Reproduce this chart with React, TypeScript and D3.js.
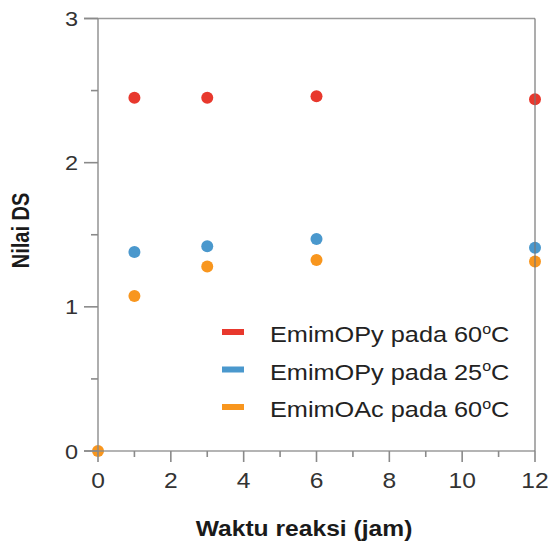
import React from "react";
import * as d3 from "d3";

const xTicks = [0, 2, 4, 6, 8, 10, 12];
const yTicks = [0, 1, 2, 3];
const seriesNames = ["EmimOPy pada 60", "EmimOPy pada 25", "EmimOAc pada 60"];
const seriesColors = ["#e8382d", "#4a98cd", "#f8961e"];
const redX = [1, 3, 6, 12];
const redY = [2.45, 2.45, 2.46, 2.44];
const blueX = [1, 3, 6, 12];
const blueY = [1.38, 1.42, 1.47, 1.41];
const orangeX = [0, 1, 3, 6, 12];
const orangeY = [0, 1.075, 1.28, 1.325, 1.315];

export default function App() {
  const W = 548, H = 544;
  const x = d3.scaleLinear().domain([0, 12]).range([98, 535]);
  const y = d3.scaleLinear().domain([0, 3]).range([451, 18.5]);
  const axisCol = "#8a8a8a";
  const font = "'Liberation Sans', Arial, sans-serif";
  const series = [
    { xs: redX, ys: redY },
    { xs: blueX, ys: blueY },
    { xs: orangeX, ys: orangeY },
  ];
  const minorX = d3.range(1, 12, 2);
  const minorY = [0.5, 1.5, 2.5];
  const sx = 1.12;
  return (
    <svg width={W} height={H} style={{ position: "absolute", left: 0, top: 0, background: "#fff" }}>
      {/* points */}
      {series.map((s, si) =>
        s.xs.map((xv, i) => (
          <circle key={si + "-" + i} cx={x(xv)} cy={y(s.ys[i])} r={6} fill={seriesColors[si]} />
        ))
      )}
      {/* frame */}
      <line x1={x(0)} x2={x(0)} y1={y(0)} y2={y(3)} stroke={axisCol} strokeWidth={1.6} opacity={0.85} />
      <line x1={84} x2={x(12)} y1={y(3)} y2={y(3)} stroke={axisCol} strokeWidth={1.6} opacity={0.85} />
      <line x1={84} x2={x(12)} y1={y(0)} y2={y(0)} stroke={axisCol} strokeWidth={1.6} opacity={0.85} />
      <line x1={x(12)} x2={x(12)} y1={y(0)} y2={y(3)} stroke="#777" strokeWidth={2} opacity={0.6} />
      {/* y ticks */}
      {yTicks.map((t) => (
        <g key={"yt" + t}>
          <line x1={84} x2={x(0)} y1={y(t)} y2={y(t)} stroke={axisCol} strokeWidth={1.6} />
          <text
            transform={`translate(78,${y(t) + 7.5}) scale(${sx},1)`}
            textAnchor="end"
            fontSize={21}
            fontFamily={font}
            fill="#333"
          >
            {t}
          </text>
        </g>
      ))}
      {minorY.map((t) => (
        <line key={"ym" + t} x1={91} x2={x(0)} y1={y(t)} y2={y(t)} stroke={axisCol} strokeWidth={1.6} />
      ))}
      {/* x ticks */}
      {xTicks.map((t) => (
        <g key={"xt" + t}>
          <line x1={x(t)} x2={x(t)} y1={y(0)} y2={y(0) + 11} stroke={axisCol} strokeWidth={1.6} />
          <text
            transform={`translate(${x(t)},488) scale(${sx},1)`}
            textAnchor="middle"
            fontSize={22}
            fontFamily={font}
            fill="#333"
          >
            {t}
          </text>
        </g>
      ))}
      {minorX.map((t) => (
        <line key={"xm" + t} x1={x(t)} x2={x(t)} y1={y(0)} y2={y(0) + 6} stroke={axisCol} strokeWidth={1.6} />
      ))}
      {/* axis labels */}
      <text
        transform={`translate(304,536) scale(1.12,1)`}
        textAnchor="middle"
        fontSize={22}
        fontWeight="bold"
        fontFamily={font}
        fill="#1a1a1a"
      >
        Waktu reaksi (jam)
      </text>
      <text
        transform={`translate(29,${y(1.53)}) rotate(-90) scale(1,1.22)`}
        textAnchor="middle"
        fontSize={20}
        fontWeight="bold"
        fontFamily={font}
        fill="#1a1a1a"
      >
        Nilai DS
      </text>
      {/* legend */}
      {seriesNames.map((n, i) => (
        <g key={"lg" + i} transform={`translate(0,${342 + i * 37.5})`}>
          <rect x={222} y={-13} width={22} height={6} fill={seriesColors[i]} />
          <text transform={`translate(270,0) scale(1.15,1)`} fontSize={22} fontFamily={font} fill="#222">
            {n}
            <tspan fontSize={14} dy="-0.6em">o</tspan>
            <tspan dy="0.382em">C</tspan>
          </text>
        </g>
      ))}
    </svg>
  );
}
